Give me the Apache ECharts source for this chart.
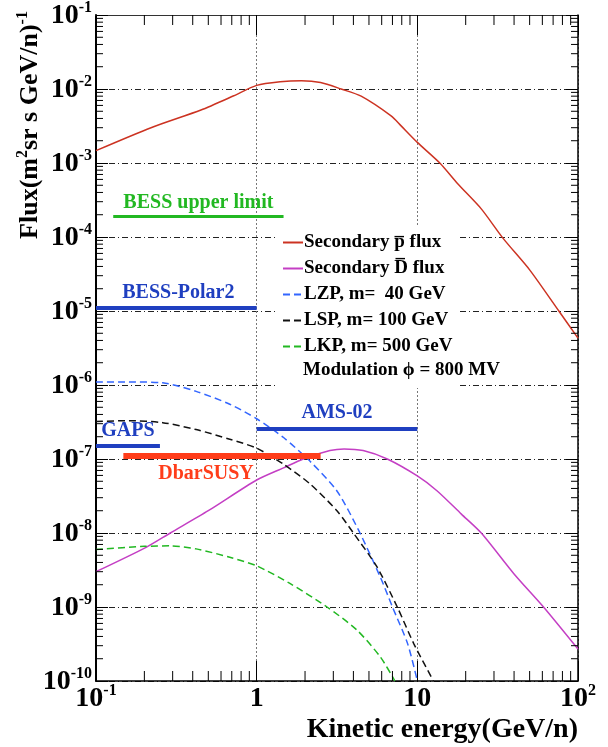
<!DOCTYPE html>
<html>
<head>
<meta charset="utf-8">
<script src="https://cdn.jsdelivr.net/npm/echarts@6/dist/echarts.min.js"></script>
<style>
  html, body { margin: 0; padding: 0; background: #fff; }
  #main { width: 608px; height: 747px; }
</style>
</head>
<body>
<div id="main"></div>
<script>
// secondary antiproton flux
const pbarE = [0.1, 0.22, 0.45, 0.72, 1.0, 1.4, 1.9, 2.5, 3.35, 4.47, 6.9, 7.9, 10, 13.8, 17.9, 25, 34.3, 50, 76, 100];
const pbarF = [1.47e-3, 3.0e-3, 5.2e-3, 8.1e-3, 1.12e-2, 1.25e-2, 1.29e-2, 1.22e-2, 1.0e-2, 8.0e-3, 4.3e-3, 3.2e-3, 1.9e-3, 1.0e-3, 5.2e-4, 2.4e-4, 9.5e-5, 3.6e-5, 1.0e-5, 4.3e-6];
// secondary antideuteron flux
const dbarE = [0.1, 0.205, 0.29, 0.5, 1.0, 1.47, 1.95, 2.86, 3.5, 4.6, 6.5, 10, 13.3, 18.8, 25, 40, 61, 100];
const dbarF = [3.0e-9, 6.4e-9, 1.0e-8, 2.0e-8, 5.2e-8, 7.6e-8, 1.0e-7, 1.3e-7, 1.37e-7, 1.3e-7, 1.0e-7, 5.9e-8, 3.7e-8, 1.8e-8, 1.0e-8, 2.8e-9, 1.0e-9, 2.7e-10];
// LZP, m = 40 GeV
const lzpE = [0.1, 0.16, 0.26, 0.42, 0.68, 1.0, 1.47, 2.15, 3.16, 4.3, 5.9, 7.0, 8.7, 10];
const lzpF = [1.1e-6, 1.1e-6, 1.07e-6, 8.2e-7, 5.5e-7, 3.5e-7, 1.95e-7, 9.3e-8, 3.7e-8, 1.1e-8, 2.5e-9, 1.0e-9, 3.2e-10, 1.0e-10];
// LSP, m = 100 GeV
const lspE = [0.1, 0.16, 0.26, 0.42, 0.68, 1.0, 1.47, 2.15, 3.16, 4.0, 5.6, 7.5, 9.5, 12.6];
const lspF = [3.2e-7, 3.3e-7, 3.1e-7, 2.5e-7, 1.85e-7, 1.4e-7, 8.5e-8, 4.6e-8, 2.0e-8, 1.0e-8, 3.5e-9, 1.0e-9, 3.2e-10, 1.0e-10];
// LKP, m = 500 GeV
const lkpE = [0.1, 0.2, 0.29, 0.42, 0.68, 1.0, 1.6, 2.74, 4.2, 5.9, 7.25];
const lkpF = [6.0e-9, 6.6e-9, 6.7e-9, 6.1e-9, 4.7e-9, 3.6e-9, 2.1e-9, 1.0e-9, 4.9e-10, 2.1e-10, 1.0e-10];

// experiment sensitivities: name, energy from, energy to, flux
const expNames = ['BESS upper limit', 'BESS-Polar2', 'GAPS', 'AMS-02', 'DbarSUSY'];
const expFrom = [0.128, 0.1, 0.1, 1.0, 0.148];
const expTo = [1.47, 1.0, 0.25, 10, 2.5];
const expFlux = [1.9e-4, 1.1e-5, 1.5e-7, 2.6e-7, 1.1e-7];

const xMin = 0.1, xMax = 100, yMin = 1e-10, yMax = 1e-1;
const xMinorTicks = [];
for (let k = -1; k <= 1; k++) for (let m = 2; m <= 9; m++) xMinorTicks.push(m * Math.pow(10, k));
const yMinorTicks = [];
for (let k = -10; k <= -2; k++) for (let m = 2; m <= 9; m++) yMinorTicks.push(m * Math.pow(10, k));

const serif = '"Liberation Serif", "DejaVu Serif", serif';
const zip = (a, b) => a.map((v, i) => [v, b[i]]);

let myChart = echarts.init(document.getElementById('main'));

function supLabel(v, isX) {
  const e = Math.round(Math.log10(v));
  if (isX && e === 0) return '{b|1}';
  if (isX && e === 1) return '{b|10}';
  return '{b|10}{s|' + e + '}';
}
const labelRich = {
  b: { fontSize: 28, fontWeight: 'bold', fontFamily: serif, color: '#000', lineHeight: 30, verticalAlign: 'bottom' },
  s: { fontSize: 16, fontWeight: 'bold', fontFamily: serif, color: '#000', lineHeight: 15, verticalAlign: 'top' }
};

const expColors = ['#22b822', '#1f3fc0', '#1f3fc0', '#1f3fc0', '#ff3d1a'];
const expWidths = [3, 4, 4, 4, 6];
const expLabelPos = ['insideMiddleTop', 'insideMiddleTop', 'insideMiddleTop', 'insideMiddleTop', 'insideMiddleBottom'];
const expLabelDist = [4, 5, 5, 5, 8];
const expLabelPad = [[0, 0, 0, 0], [0, 0, 0, 4], [0, 0, 0, 0], [0, 0, 0, 0], [0, 32, 0, 0]];

const expSeries = expNames.map((name, i) => ({
  type: 'line',
  name: name,
  data: [],
  silent: true,
  markLine: {
    silent: true,
    symbol: ['none', 'none'],
    animation: false,
    lineStyle: { color: expColors[i], width: expWidths[i], type: 'solid' },
    label: {
      show: true,
      position: expLabelPos[i],
      distance: expLabelDist[i],
      formatter: name,
      color: expColors[i],
      fontSize: 20,
      fontWeight: 'bold',
      fontFamily: serif,
      padding: expLabelPad[i]
    },
    emphasis: { disabled: true },
    data: [[{ coord: [expFrom[i], expFlux[i]] }, { coord: [expTo[i], expFlux[i]] }]]
  }
}));

function curve(name, xs, ys, color, dashed) {
  return {
    type: 'line',
    name: name,
    data: zip(xs, ys),
    smooth: 0.25,
    symbol: 'none',
    clip: true,
    z: 3,
    lineStyle: { color: color, width: 1.5, type: dashed ? [7, 4] : 'solid' },
    itemStyle: { color: color }
  };
}

const option = {
  animation: false,
  backgroundColor: '#fff',
  grid: { left: 96, right: 30, top: 12, bottom: 66 },
  legend: {
    orient: 'vertical',
    left: 282,
    top: 233,
    itemWidth: 20,
    itemHeight: 12,
    itemGap: 7,
    padding: 0,
    selectedMode: false,
    itemStyle: { opacity: 0 },
    data: ['Secondary p\u0305 flux', 'Secondary D\u0305 flux', 'LZP, m=  40 GeV', 'LSP, m= 100 GeV', 'LKP, m= 500 GeV'],
    textStyle: { fontSize: 19, fontWeight: 'bold', fontFamily: serif, color: '#000', lineHeight: 19, padding: [0, 0, 0, -4] }
  },
  xAxis: [{
    type: 'log', logBase: 10, min: xMin, max: xMax, splitNumber: 3,
    axisLine: { lineStyle: { color: '#000', width: 1.5 } },
    axisTick: { inside: true, length: 20, lineStyle: { color: '#000' } },
    axisLabel: { margin: 2, formatter: v => supLabel(v, true), rich: labelRich, showMinLabel: true, showMaxLabel: true },
    splitLine: { show: true, lineStyle: { color: '#777', width: 1, type: [2, 2] } }
  }, {
    type: 'log', logBase: 10, min: xMin, max: xMax, splitNumber: 3, position: 'top',
    axisLine: { lineStyle: { color: '#333', width: 1.2 } },
    axisTick: { inside: true, length: 20, lineStyle: { color: '#000' } },
    axisLabel: { show: false }, splitLine: { show: false }
  }],
  yAxis: [{
    type: 'log', logBase: 10, min: yMin, max: yMax, splitNumber: 9,
    axisLine: { lineStyle: { color: '#000', width: 2 } },
    axisTick: { inside: true, length: 12, lineStyle: { color: '#000' } },
    axisLabel: { margin: 4, formatter: v => supLabel(v, false), rich: labelRich, showMinLabel: true, showMaxLabel: true },
    splitLine: { show: true, lineStyle: { color: '#222', width: 1, type: [6, 3, 1, 3] } }
  }, {
    type: 'log', logBase: 10, min: yMin, max: yMax, splitNumber: 9, position: 'right',
    axisLine: { lineStyle: { color: '#000', width: 1.5 } },
    axisTick: { inside: true, length: 12, lineStyle: { color: '#000' } },
    axisLabel: { show: false }, splitLine: { show: false }
  }],
  graphic: [
    { type: 'rect', left: 276, top: 226, z: 1, silent: true,
      shape: { width: 182, height: 162 }, style: { fill: '#fff' } },
    { type: 'text', left: 303, top: 361, z: 10, silent: true,
      style: { text: 'Modulation \u03d5 = 800 MV', font: 'bold 19px ' + serif, fill: '#000' } },
    { type: 'text', x: 29, y: 125, rotation: Math.PI / 2, z: 10, silent: true,
      style: {
        text: '{a|Flux(m}{s|2}{a|sr s GeV/n)}{s|-1}',
        align: 'center', verticalAlign: 'middle',
        rich: {
          a: { fontSize: 26, fontWeight: 'bold', fontFamily: serif, fill: '#000', lineHeight: 29, verticalAlign: 'bottom' },
          s: { fontSize: 16, fontWeight: 'bold', fontFamily: serif, fill: '#000', lineHeight: 15, verticalAlign: 'top' }
        }
      } },
    { type: 'text', right: 30, top: 716, z: 10, silent: true,
      style: { text: 'Kinetic energy(GeV/n)', font: 'bold 28px ' + serif, fill: '#000' } }
  ],
  series: [
    curve('Secondary p\u0305 flux', pbarE, pbarF, '#cc3322', false),
    curve('Secondary D\u0305 flux', dbarE, dbarF, '#c43fc4', false),
    curve('LZP, m=  40 GeV', lzpE, lzpF, '#3366ff', true),
    curve('LSP, m= 100 GeV', lspE, lspF, '#111', true),
    curve('LKP, m= 500 GeV', lkpE, lkpF, '#22b822', true),
    ...expSeries,
    {
      type: 'custom', name: 'xminor', silent: true, z: 4,
      data: xMinorTicks.map(v => [v, yMin]),
      renderItem: function (params, api) {
        const b = api.coord([api.value(0), yMin]);
        const t = api.coord([api.value(0), yMax]);
        return { type: 'group', children: [
          { type: 'line', shape: { x1: b[0], y1: b[1], x2: b[0], y2: b[1] - 10 }, style: { stroke: '#000', lineWidth: 1 } },
          { type: 'line', shape: { x1: t[0], y1: t[1], x2: t[0], y2: t[1] + 10 }, style: { stroke: '#000', lineWidth: 1 } }
        ] };
      }
    },
    {
      type: 'custom', name: 'yminor', silent: true, z: 4,
      data: yMinorTicks.map(v => [xMin, v]),
      renderItem: function (params, api) {
        const l = api.coord([xMin, api.value(1)]);
        const r = api.coord([xMax, api.value(1)]);
        return { type: 'group', children: [
          { type: 'line', shape: { x1: l[0], y1: l[1], x2: l[0] + 7, y2: l[1] }, style: { stroke: '#000', lineWidth: 1 } },
          { type: 'line', shape: { x1: r[0], y1: r[1], x2: r[0] - 7, y2: r[1] }, style: { stroke: '#000', lineWidth: 1 } }
        ] };
      }
    }
  ]
};

option && myChart.setOption(option);
</script>
</body>
</html>
